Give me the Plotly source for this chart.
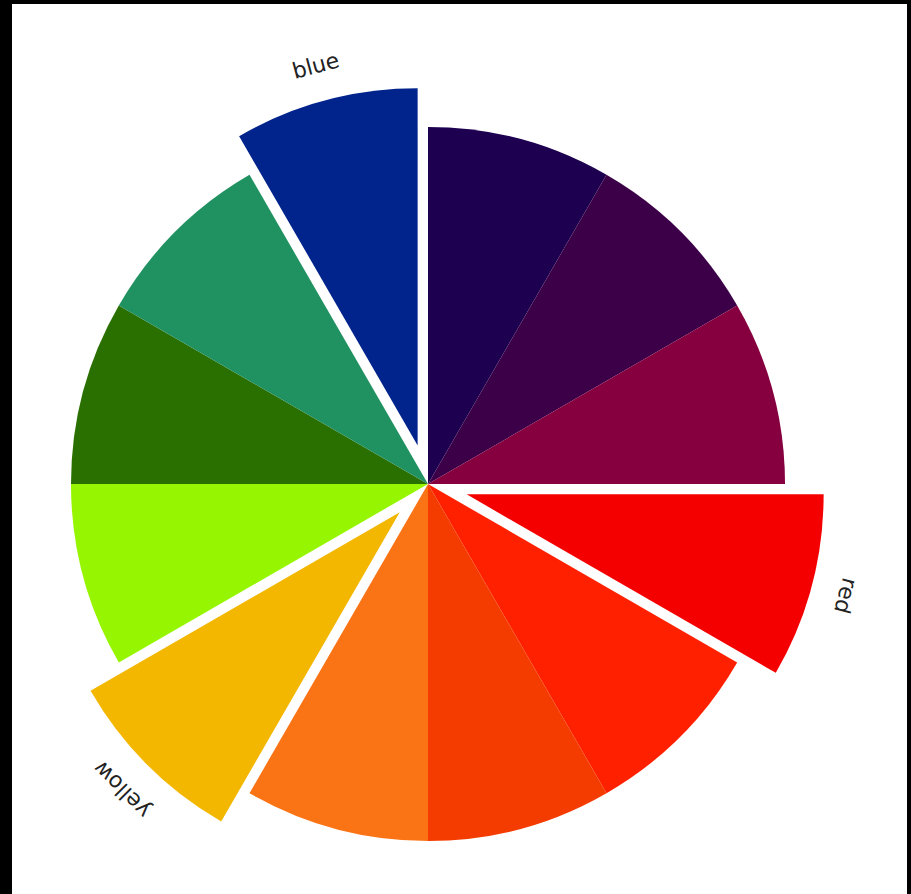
import math
import plotly.graph_objects as go

# ---- data ----
labels = ["indigo", "violet", "red-violet", "red", "red-orange", "vermilion",
          "orange", "yellow", "yellow-green", "green", "blue-green", "blue"]
values = [1, 1, 1, 1, 1, 1, 1, 1, 1, 1, 1, 1]
colors = ["#1e0050", "#3c0048", "#860040", "#f40000", "#ff2000", "#f53c00",
          "#fa7314", "#f3b700", "#96f500", "#2a7000", "#209160", "#00238c"]
pulls = [0, 0, 0, 0.112, 0, 0, 0, 0.112, 0, 0, 0, 0.112]
shown_labels = ["red", "yellow", "blue"]

# ---- layout geometry (pixels) ----
W, H = 911, 894
ml, mr, mt, mb = 12, 4, 4, 0
pw, ph = W - ml - mr, H - mt - mb
cx_px, cy_px = 428, 484
side = 794  # domain size in px

dom_x = [(cx_px - side / 2 - ml) / pw, (cx_px + side / 2 - ml) / pw]
dom_y = [(H - mb - cy_px - side / 2) / ph, (H - mb - cy_px + side / 2) / ph]

fig = go.Figure(go.Pie(
    labels=labels, values=values, sort=False, direction="clockwise", rotation=0,
    marker=dict(colors=colors, line=dict(width=0)),
    pull=pulls, textinfo="none", hoverinfo="label",
    domain=dict(x=dom_x, y=dom_y), showlegend=False,
))

# tangential labels outside the pulled slices
total = sum(values)
label_r = 433
annotations = []
cum = 0
for lab, v in zip(labels, values):
    mid = (cum + v / 2) / total * 360
    cum += v
    if lab not in shown_labels:
        continue
    t = math.radians(mid)
    px = cx_px + label_r * math.sin(t)
    py = cy_px - label_r * math.cos(t)
    ang = mid if mid <= 180 else mid - 360
    annotations.append(dict(
        x=(px - ml) / pw, y=(H - mb - py) / ph, xref="paper", yref="paper",
        text=lab, showarrow=False, textangle=ang,
        font=dict(family="DejaVu Sans", size=22, color="#222222"),
        xanchor="center", yanchor="middle",
    ))

fig.update_layout(
    width=W, height=H,
    paper_bgcolor="black",
    margin=dict(l=ml, r=mr, t=mt, b=mb, pad=0),
    shapes=[dict(type="rect", xref="paper", yref="paper", x0=0, x1=1, y0=0, y1=1,
                 fillcolor="white", line=dict(width=0), layer="below")],
    annotations=annotations,
)

fig.write_html(
    "out.html",
    config={"displayModeBar": False},
    post_script="document.body.style.margin='0';document.body.style.overflow='hidden';",
)
